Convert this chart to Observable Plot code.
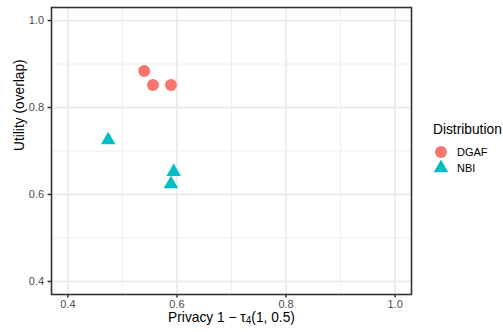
<!DOCTYPE html>
<html>
<head>
<meta charset="utf-8">
<script src="https://cdn.jsdelivr.net/npm/d3@7"></script>
<script src="https://cdn.jsdelivr.net/npm/@observablehq/plot@0.6"></script>
<style>
  body { margin: 0; background: #fff; font-family: "Liberation Sans", Arial, sans-serif; }
  #chart { position: relative; width: 503px; height: 332px; }
  #legend { position: absolute; left: 433px; top: 121px; color: #000; }
  #legend .title { font-size: 13.75px; line-height: 18px; height: 23px; }
  #legend .row { position: relative; height: 16px; }
  #legend .row svg { position: absolute; left: 0; top: 0; }
  #legend .row span { position: absolute; left: 24px; top: 0; font-size: 11px; line-height: 16px; }
</style>
</head>
<body>
<div id="chart"></div>
<script>
// Privacy / utility scores per distribution
const dgafPrivacy = [0.540, 0.556, 0.589];
const dgafUtility = [0.884, 0.852, 0.852];
const nbiPrivacy = [0.474, 0.594, 0.589];
const nbiUtility = [0.725, 0.652, 0.624];

const seriesNames = ["DGAF", "NBI"];
const seriesColors = ["#F8766D", "#00BFC4"];
const seriesSymbols = ["circle", "triangle"];

const xTicks = [0.4, 0.6, 0.8, 1.0];
const yTicks = [0.4, 0.6, 0.8, 1.0];
const minorBreaks = [0.5, 0.7, 0.9];
const xTitle = "Privacy 1 \u2212 \u03c44(1, 0.5)";
const yTitle = "Utility (overlap)";
const legendTitle = "Distribution";

const rows = (xs, ys, name) => xs.map((x, i) => ({privacy: x, utility: ys[i], dist: name}));
const dgaf = rows(dgafPrivacy, dgafUtility, seriesNames[0]);
const nbi = rows(nbiPrivacy, nbiUtility, seriesNames[1]);

const gridColor = "#EBEBEB";
const fmt = d => d.toFixed(1);

const plot = Plot.plot({
  width: 503,
  height: 332,
  marginLeft: 51,
  marginRight: 92,
  marginTop: 7,
  marginBottom: 38,
  style: {fontFamily: "'Liberation Sans', Arial, sans-serif", background: "#fff"},
  x: {domain: [0.37, 1.03]},
  y: {domain: [0.37, 1.03]},
  marks: [
    Plot.gridX(minorBreaks, {stroke: gridColor, strokeOpacity: 1, strokeWidth: 0.9}),
    Plot.gridY(minorBreaks, {stroke: gridColor, strokeOpacity: 1, strokeWidth: 0.9}),
    Plot.gridX(xTicks, {stroke: gridColor, strokeOpacity: 1, strokeWidth: 1.8}),
    Plot.gridY(yTicks, {stroke: gridColor, strokeOpacity: 1, strokeWidth: 1.8}),
    Plot.dot(dgaf, {x: "privacy", y: "utility", r: 6, fill: seriesColors[0], stroke: null, symbol: seriesSymbols[0]}),
    Plot.dot(nbi, {x: "privacy", y: "utility", r: 5.4, fill: seriesColors[1], stroke: null, symbol: seriesSymbols[1]}),
    Plot.frame({stroke: "#333333", strokeWidth: 1.6}),
    Plot.axisX(xTicks, {tickSize: 3.4, tickPadding: 2, stroke: "#333333", strokeWidth: 1.5, fill: "#4D4D4D", fontSize: 11, tickFormat: fmt, label: null}),
    Plot.axisY(yTicks, {tickSize: 3.4, tickPadding: 4, stroke: "#333333", strokeWidth: 1.5, fill: "#4D4D4D", fontSize: 11, tickFormat: fmt, label: null}),
    Plot.text([xTitle], {frameAnchor: "bottom", text: d => d, dy: 27, fontSize: 13.75, fill: "#000"}),
    Plot.text([yTitle], {frameAnchor: "left", text: d => d, rotate: -90, dx: -32, fontSize: 13.75, fill: "#000"})
  ]
});

// Render the tau subscript of the x title as a lowered, smaller digit
for (const t of plot.querySelectorAll("text")) {
  if (t.textContent === xTitle) {
    t.textContent = "";
    const parts = [
      {s: "Privacy 1 \u2212 \u03c4"},
      {s: "4", size: 10, dy: 2.5},
      {s: "(1, 0.5)", dy: -2.5}
    ];
    for (const p of parts) {
      const ts = document.createElementNS("http://www.w3.org/2000/svg", "tspan");
      ts.textContent = p.s;
      if (p.size) ts.setAttribute("font-size", p.size);
      if (p.dy) ts.setAttribute("dy", p.dy);
      t.appendChild(ts);
    }
  }
}

const chart = document.getElementById("chart");
chart.appendChild(plot);

// Legend
const legend = document.createElement("div");
legend.id = "legend";
const title = document.createElement("div");
title.className = "title";
title.textContent = legendTitle;
legend.appendChild(title);
seriesNames.forEach((name, i) => {
  const row = document.createElement("div");
  row.className = "row";
  const sym = d3.symbol(seriesSymbols[i] === "circle" ? d3.symbolCircle : d3.symbolTriangle,
    seriesSymbols[i] === "circle" ? Math.PI * 36 : Math.PI * 5.4 * 5.4)();
  row.innerHTML = `<svg width="18" height="16"><path transform="translate(8,8)" d="${sym}" fill="${seriesColors[i]}"/></svg><span>${name}</span>`;
  legend.appendChild(row);
});
chart.appendChild(legend);
</script>
</body>
</html>
